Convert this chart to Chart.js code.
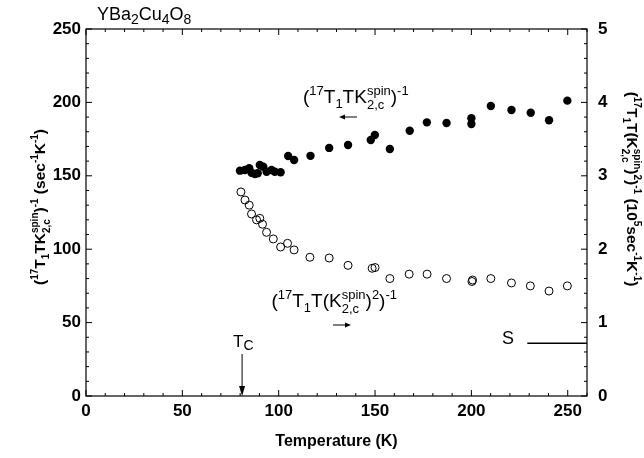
<!DOCTYPE html>
<html>
<head>
<meta charset="utf-8">
<script src="https://cdn.jsdelivr.net/npm/chart.js@4.4.1/dist/chart.umd.min.js"></script>
<style>
  html, body { margin: 0; padding: 0; background: #fff; }
  #wrap { width: 644px; height: 458px; }
</style>
</head>
<body>
<div id="wrap"><canvas id="chart"></canvas></div>
<script>
// (17T1TK)^-1, filled circles, left axis (sec^-1 K^-1)
const filledT   = [79.9, 82.5, 84.7, 85.9, 87.7, 89.1, 90.2, 92.0, 93.7, 96.3, 98.0, 101.0, 104.9, 108.0,
                   116.5, 126.2, 136.0, 147.8, 149.9, 157.7, 168.0, 176.9, 187.1, 200.0, 200.0,
                   210.1, 220.8, 230.8, 240.3, 249.8];
const filledVal = [153.5, 154.0, 155.1, 152.1, 151.2, 151.7, 157.4, 156.2, 152.8, 154.0, 152.8, 152.4, 163.5, 160.8,
                   163.6, 169.0, 171.0, 174.4, 177.8, 168.3, 180.7, 186.4, 186.0, 189.2, 185.3,
                   197.5, 194.8, 193.0, 187.8, 201.2];

// (17T1T K^2)^-1, open circles, right axis (10^5 sec^-1 K^-1)
const openT   = [80.4, 82.5, 84.7, 85.9, 88.5, 90.2, 91.6, 93.7, 97.2, 101.0, 104.6, 108.0,
                 116.2, 126.2, 136.0, 148.5, 150.0, 157.7, 167.7, 177.0, 187.1, 200.3, 200.6,
                 210.1, 220.8, 230.6, 240.3, 249.8];
const openVal = [2.78, 2.67, 2.60, 2.48, 2.40, 2.42, 2.34, 2.23, 2.14, 2.03, 2.08, 1.99,
                 1.89, 1.88, 1.78, 1.74, 1.75, 1.60, 1.66, 1.66, 1.60, 1.56, 1.58,
                 1.60, 1.54, 1.50, 1.43, 1.50];

const xTicks  = [0, 50, 100, 150, 200, 250];
const yTicks  = [0, 50, 100, 150, 200, 250];
const y2Ticks = [0, 1, 2, 3, 4, 5];

const tcValue = 81;      // T_c marker
const sLevel = 0.72;     // "S" line, right axis
const sStartT = 229;

const FONT = '"Liberation Sans", Arial, Helvetica, sans-serif';

// draw text with super/subscripts: ['n',txt] ['sup',txt] ['sub',txt] ['ss',sup,sub] ['lo',txt]
function drawRich(ctx, segs, x, y, size, weight, align) {
  const small = Math.round(size * 0.66);
  const f = s => `${weight} ${s}px ${FONT}`;
  const w = g => {
    if (g[0] === 'n') { ctx.font = f(size); return ctx.measureText(g[1]).width; }
    if (g[0] === 'lo') { ctx.font = f(Math.round(size * 0.8)); return ctx.measureText(g[1]).width; }
    ctx.font = f(small);
    if (g[0] === 'ss') return Math.max(ctx.measureText(g[1]).width, ctx.measureText(g[2]).width);
    return ctx.measureText(g[1]).width;
  };
  const total = segs.reduce((s, g) => s + w(g), 0);
  let cx = align === 'center' ? x - total / 2 : align === 'right' ? x - total : x;
  ctx.textAlign = 'left';
  ctx.textBaseline = 'alphabetic';
  segs.forEach(g => {
    const gw = w(g);
    if (g[0] === 'n') {
      ctx.font = f(size); ctx.fillText(g[1], cx, y);
    } else if (g[0] === 'lo') {
      ctx.font = f(Math.round(size * 0.8)); ctx.fillText(g[1], cx, y + size * 0.2);
    } else {
      ctx.font = f(small);
      if (g[0] === 'sup' || g[0] === 'ss') ctx.fillText(g[1], cx, y - size * 0.42);
      if (g[0] === 'sub') ctx.fillText(g[1], cx, y + size * 0.25);
      if (g[0] === 'ss') ctx.fillText(g[2], cx, y + size * 0.3);
    }
    cx += gw;
  });
}

const frame = {
  id: 'frame',
  afterDraw(chart) {
    const { ctx, chartArea: a, scales: { x, y, y2 } } = chart;
    ctx.save();
    ctx.strokeStyle = '#000';
    ctx.fillStyle = '#000';
    ctx.lineWidth = 1.2;
    ctx.strokeRect(a.left, a.top, a.right - a.left, a.bottom - a.top);

    // inward ticks
    ctx.lineWidth = 1;
    ctx.beginPath();
    for (let v = 0; v <= 260; v += 10) {
      const px = x.getPixelForValue(v), len = v % 50 === 0 ? 6 : 3;
      ctx.moveTo(px, a.bottom); ctx.lineTo(px, a.bottom - len);
      ctx.moveTo(px, a.top); ctx.lineTo(px, a.top + len);
    }
    for (let v = 0; v <= 250; v += 10) {
      const py = y.getPixelForValue(v), len = v % 50 === 0 ? 6 : 3;
      ctx.moveTo(a.left, py); ctx.lineTo(a.left + len, py);
    }
    for (let i = 0; i <= 25; i++) {
      const py = y2.getPixelForValue(i * 0.2), len = i % 5 === 0 ? 6 : 3;
      ctx.moveTo(a.right, py); ctx.lineTo(a.right - len, py);
    }
    ctx.stroke();

    // title
    ctx.fillStyle = '#000';
    drawRich(ctx, [['n', 'YBa'], ['lo', '2'], ['n', 'Cu'], ['lo', '4'], ['n', 'O'], ['lo', '8']],
      97, 20, 18, 'normal', 'left');

    // axis titles
    ctx.font = `bold 16px ${FONT}`;
    ctx.textAlign = 'center';
    ctx.fillText('Temperature (K)', (a.left + a.right) / 2, 446);

    ctx.save();
    ctx.translate(45, 207);
    ctx.rotate(-Math.PI / 2);
    drawRich(ctx, [['n', '('], ['sup', '17'], ['n', 'T'], ['sub', '1'], ['n', 'TK'], ['ss', 'spin', '2,c'],
      ['n', ')'], ['sup', '-1'], ['n', ' (sec'], ['sup', '-1'], ['n', 'K'], ['sup', '-1'], ['n', ')']],
      0, 0, 15.5, 'bold', 'center');
    ctx.restore();

    ctx.save();
    ctx.translate(627, 189);
    ctx.rotate(Math.PI / 2);
    drawRich(ctx, [['n', '('], ['sup', '17'], ['n', 'T'], ['sub', '1'], ['n', 'T(K'], ['ss', 'spin', '2,c'],
      ['n', ')'], ['sup', '2'], ['n', ')'], ['sup', '-1'], ['n', ' (10'], ['sup', '5'], ['n', 'sec'], ['sup', '-1'],
      ['n', 'K'], ['sup', '-1'], ['n', ')']],
      0, 0, 15.5, 'bold', 'center');
    ctx.restore();

    // series annotations
    drawRich(ctx, [['n', '('], ['sup', '17'], ['n', 'T'], ['sub', '1'], ['n', 'TK'], ['ss', 'spin', '2,c'],
      ['n', ')'], ['sup', '-1']], 303, 103, 19, 'normal', 'left');
    drawRich(ctx, [['n', '('], ['sup', '17'], ['n', 'T'], ['sub', '1'], ['n', 'T(K'], ['ss', 'spin', '2,c'],
      ['n', ')'], ['sup', '2'], ['n', ')'], ['sup', '-1']], 397, 307, 19, 'normal', 'right');

    ctx.lineWidth = 1;
    ctx.beginPath();
    ctx.moveTo(357, 117); ctx.lineTo(343, 117);
    ctx.moveTo(333, 325); ctx.lineTo(347, 325);
    ctx.stroke();
    ctx.beginPath();
    ctx.moveTo(339, 117); ctx.lineTo(345, 114.5); ctx.lineTo(345, 119.5); ctx.closePath();
    ctx.moveTo(351, 325); ctx.lineTo(345, 322.5); ctx.lineTo(345, 327.5); ctx.closePath();
    ctx.fill();

    // T_c marker
    const tx = x.getPixelForValue(tcValue);
    drawRich(ctx, [['n', 'T'], ['lo', 'C']], tx - 9, 347, 17, 'normal', 'left');
    ctx.beginPath();
    ctx.moveTo(tx, 354); ctx.lineTo(tx, a.bottom - 6);
    ctx.stroke();
    ctx.beginPath();
    ctx.moveTo(tx - 3, a.bottom - 10); ctx.lineTo(tx + 3, a.bottom - 10); ctx.lineTo(tx, a.bottom); ctx.closePath();
    ctx.fill();

    // S line
    const sy = y2.getPixelForValue(sLevel);
    ctx.font = `normal 18px ${FONT}`;
    ctx.textAlign = 'left';
    ctx.fillText('S', 502, sy + 1);
    ctx.lineWidth = 1.5;
    ctx.beginPath();
    ctx.moveTo(x.getPixelForValue(sStartT), sy); ctx.lineTo(a.right, sy);
    ctx.stroke();
    ctx.restore();
  }
};

const tickFont = { family: FONT, size: 17, weight: 'bold' };

new Chart(document.getElementById('chart'), {
  type: 'scatter',
  data: {
    datasets: [{
      label: 'filled',
      data: filledT.map((t, i) => ({ x: t, y: filledVal[i] })),
      yAxisID: 'y',
      pointRadius: 4.2,
      pointBackgroundColor: '#000',
      pointBorderColor: '#000',
      pointBorderWidth: 0
    }, {
      label: 'open',
      data: openT.map((t, i) => ({ x: t, y: openVal[i] })),
      yAxisID: 'y2',
      pointRadius: 4,
      pointBackgroundColor: 'rgba(255,255,255,0)',
      pointBorderColor: '#000',
      pointBorderWidth: 1
    }]
  },
  options: {
    responsive: true,
    maintainAspectRatio: false,
    animation: false,
    devicePixelRatio: 1,
    layout: { padding: { top: 29, left: 0, right: 0, bottom: 0 } },
    plugins: { legend: { display: false }, tooltip: { enabled: false } },
    scales: {
      x: {
        type: 'linear', min: 0, max: 260, position: 'bottom',
        grid: { display: false, drawTicks: false }, border: { display: false },
        afterBuildTicks: s => { s.ticks = xTicks.map(v => ({ value: v })); },
        afterFit: s => { s.height = 62; },
        ticks: { font: tickFont, color: '#000', padding: 5, maxRotation: 0, autoSkip: false }
      },
      y: {
        type: 'linear', min: 0, max: 250, position: 'left',
        grid: { display: false, drawTicks: false }, border: { display: false },
        afterBuildTicks: s => { s.ticks = yTicks.map(v => ({ value: v })); },
        afterFit: s => { s.width = 86; },
        ticks: { font: tickFont, color: '#000', padding: 5 }
      },
      y2: {
        type: 'linear', min: 0, max: 5, position: 'right',
        grid: { display: false, drawTicks: false }, border: { display: false },
        afterBuildTicks: s => { s.ticks = y2Ticks.map(v => ({ value: v })); },
        afterFit: s => { s.width = 57; },
        ticks: { font: tickFont, color: '#000', padding: 11 }
      }
    }
  },
  plugins: [frame]
});
</script>
</body>
</html>
